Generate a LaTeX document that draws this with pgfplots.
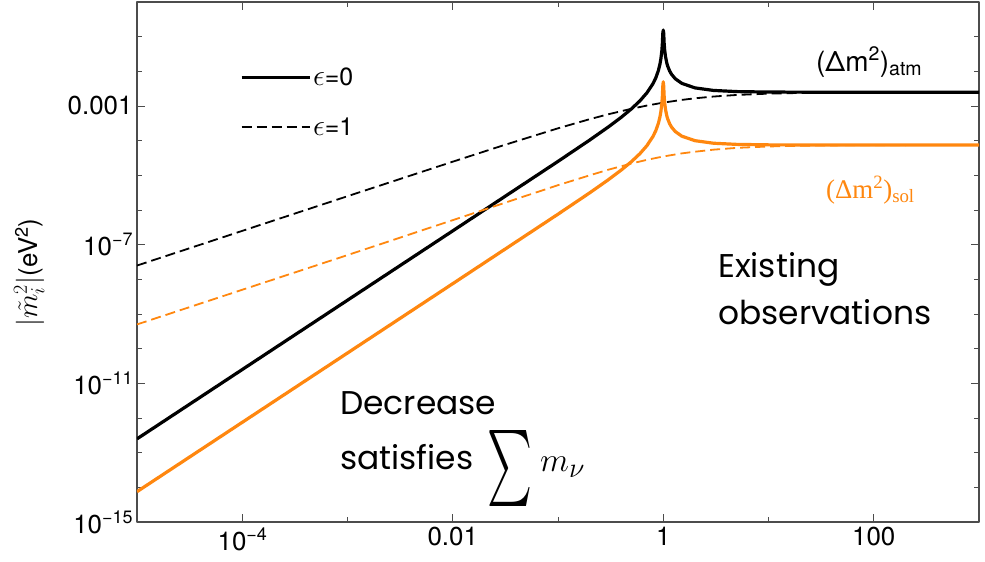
\RequirePackage{fix-cm}
\documentclass[border=0pt]{standalone}
\usepackage{graphicx}
\usepackage{fontspec}
\setmainfont{TeX Gyre Heros}
\newfontfamily\avenir{Poppins}
\newfontfamily\timesfont{Liberation Serif}
\usepackage{pgfplots}
\pgfplotsset{compat=1.18}
\definecolor{solorange}{RGB}{255,135,15}

\newcommand{\tlab}{\fontsize{26}{26}\selectfont}
\newcommand{\pw}[2]{#1\raisebox{0.72ex}{\fontsize{18}{18}\selectfont #2}}
\newcommand{\eps}{\scalebox{1.2}{$\epsilon$}}

\begin{document}
\begin{tikzpicture}
\begin{axis}[
  at={(137bp,40bp)}, anchor=south west,
  scale only axis, width=842bp, height=520bp,
  xmode=log, ymode=log,
  xmin=1e-5, xmax=1e3, ymin=1e-15, ymax=1,
  xtick={1e-4,1e-2,1,1e2},
  xticklabels={\pw{10}{−4},0.01,1,100},
  minor xtick={1e-5,1e-3,1e-1,1e1,1e3},
  ytick={1e-15,1e-11,1e-7,1e-3},
  yticklabels={\pw{10}{−15},\pw{10}{−11},\pw{10}{−7},0.001},
  minor ytick={1e-14,1e-13,1e-12,1e-10,1e-9,1e-8,1e-6,1e-5,1e-4,1e-2,1e-1},
  tick align=inside,
  major tick length=8bp, minor tick length=5bp,
  tick style={black!70, line width=0.8bp},
  axis line style={black!70, line width=1.2bp},
  ticklabel style={font=\tlab},
  xticklabel style={yshift=-2bp},
  yticklabel style={xshift=-1bp},
  ylabel={\scalebox{1.1}{$|\tilde{m}^2_i|$}(eV\textsuperscript{2})},
  ylabel style={font=\tlab, at={(axis description cs:-0.128,0.48)}, anchor=center},
  legend style={draw=none, fill=none, at={(axis description cs:0.122,0.878)},
    anchor=north west, font=\fontsize{25}{25}\selectfont, row sep=27bp,
    inner sep=0pt, cells={anchor=west}},
  legend image code/.code={\draw[#1] (0bp,0bp) -- (68bp,0bp);},
  legend cell align=left,
  line join=round,
]
% epsilon = 0, atmospheric splitting
\addplot[black, line width=3.2bp] coordinates {
 (1e-5,2.5e-13) (1e-3,2.5e-9) (0.01,2.50025e-7) (0.1,2.52525e-5)
 (0.2,1.041667e-4) (0.3,2.472527e-4) (0.4,4.761905e-4) (0.5,8.333333e-4)
 (0.6,1.40625e-3) (0.7,2.401961e-3) (0.8,4.444444e-3) (0.85,6.50901e-3)
 (0.9,1.065789e-2) (0.93,1.600481e-2) (0.95,2.314103e-2) (0.97,3.980118e-2)
 (0.98,6.063133e-2) (0.99,0.1231282) (1,0.155) (1.01,0.1268781)
 (1.02,6.43812e-2) (1.03,4.35509e-2) (1.05,2.689025e-2) (1.08,1.752404e-2)
 (1.1,1.440476e-2) (1.15,1.025194e-2) (1.2,8.181818e-3) (1.3,6.123188e-3)
 (1.5,4.5e-3) (2,3.333333e-3) (3,2.8125e-3) (5,2.604167e-3)
 (10,2.525253e-3) (30,2.50278e-3) (1000,2.5e-3)
};
\addlegendentry{\eps=0}
% epsilon = 1, atmospheric splitting
\addplot[black, line width=1.8bp, dash pattern=on 10bp off 5bp] coordinates {
 (1e-5,2.49998e-8) (1e-4,2.49975e-7) (1e-3,2.4975e-6) (0.01,2.475248e-5)
 (0.03,7.281553e-5) (0.1,2.272727e-4) (0.2,4.166667e-4) (0.3,5.769231e-4)
 (0.5,8.333333e-4) (0.7,1.029412e-3) (1,1.25e-3) (1.5,1.5e-3)
 (2,1.666667e-3) (3,1.875e-3) (5,2.083333e-3) (10,2.272727e-3)
 (20,2.380952e-3) (50,2.45098e-3) (100,2.475248e-3) (1000,2.497502e-3)
};
\addlegendentry{\eps=1}
% epsilon = 0, solar splitting
\addplot[solorange, line width=3.2bp, forget plot] coordinates {
 (1e-5,7.5e-15) (1e-3,7.5e-11) (0.01,7.50075e-9) (0.1,7.57576e-7)
 (0.2,3.125e-6) (0.3,7.417582e-6) (0.4,1.428571e-5) (0.5,2.5e-5)
 (0.6,4.21875e-5) (0.7,7.205882e-5) (0.8,1.333333e-4) (0.85,1.952703e-4)
 (0.9,3.197368e-4) (0.93,4.801443e-4) (0.95,6.942308e-4) (0.97,1.194035e-3)
 (0.98,1.81894e-3) (0.99,3.693845e-3) (1,5.0e-3) (1.01,3.806343e-3)
 (1.02,1.931436e-3) (1.03,1.306527e-3) (1.05,8.067073e-4) (1.08,5.257211e-4)
 (1.1,4.321429e-4) (1.15,3.075581e-4) (1.2,2.454545e-4) (1.3,1.836956e-4)
 (1.5,1.35e-4) (2,1.0e-4) (3,8.4375e-5) (5,7.8125e-5)
 (10,7.575758e-5) (30,7.50834e-5) (1000,7.5e-5)
};
% epsilon = 1, solar splitting
\addplot[solorange, line width=1.8bp, dash pattern=on 10bp off 5bp, forget plot] coordinates {
 (1e-5,5.0e-10) (1e-4,5.0e-9) (1e-3,5.0e-8) (0.01,5.1e-7)
 (0.03,1.55e-6) (0.1,5.2e-6) (0.2,1.0e-5) (0.3,1.45e-5)
 (0.5,2.2e-5) (0.7,2.8e-5) (1,3.5e-5) (1.5,4.3e-5)
 (2,4.8e-5) (3,5.5e-5) (5,6.2e-5) (10,6.8e-5)
 (20,7.15e-5) (50,7.35e-5) (100,7.43e-5) (1000,7.5e-5)
};
\end{axis}
% annotations
\node[anchor=west, inner sep=0pt, font=\fontsize{28}{28}\selectfont]
  at (816bp,500bp) {(Δm\textsuperscript{2})\textsubscript{atm}};
\node[anchor=west, inner sep=0pt, text=solorange, font=\timesfont\fontsize{27}{27}\selectfont]
  at (826bp,372bp) {(Δm\textsuperscript{2})\textsubscript{sol}};
\node[anchor=base west, inner sep=0pt, font=\avenir\fontsize{33}{33}\selectfont]
  at (718bp,284bp) {Existing};
\node[anchor=base west, inner sep=0pt, font=\avenir\fontsize{33}{33}\selectfont]
  at (718bp,237bp) {observations};
\node[anchor=base west, inner sep=0pt, font=\avenir\fontsize{33}{33}\selectfont]
  at (340bp,147bp) {Decrease};
\node[anchor=base west, inner sep=0pt, font=\avenir\fontsize{33}{33}\selectfont]
  at (340bp,92bp) {satisfies};
\node[anchor=north west, inner sep=0pt] at (487bp,132bp)
  {\resizebox{45bp}{57bp}{$\sum$}};
\node[anchor=base west, inner sep=0pt] at (540bp,90bp)
  {\fontsize{24.88}{28}\selectfont\scalebox{1.36}{$m_\nu$}};
\pgfresetboundingbox
\path (0,0) rectangle (985bp,562bp);
\end{tikzpicture}
\end{document}
